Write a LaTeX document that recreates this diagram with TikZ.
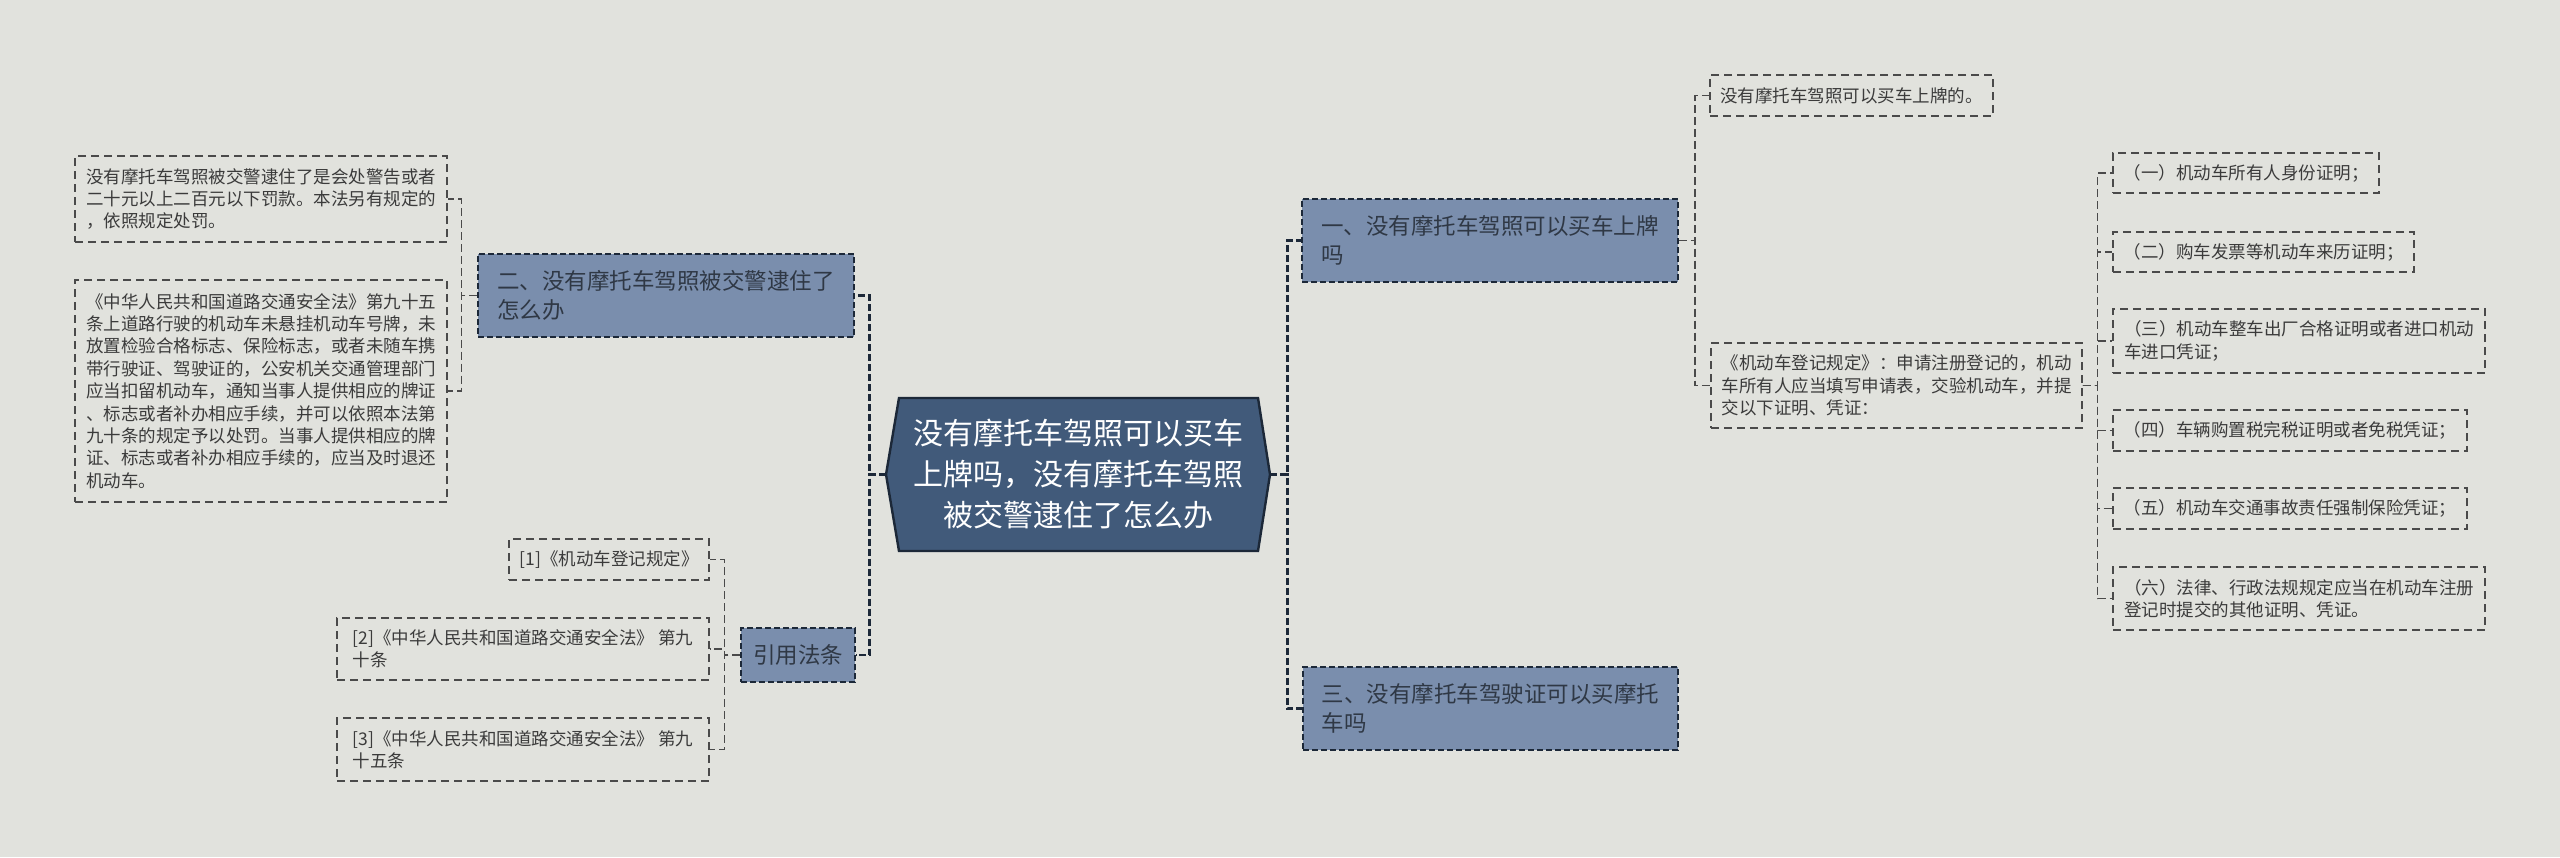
\documentclass[tikz,border=0pt]{standalone}
\usepackage{fontspec}
\setmainfont{Noto Sans CJK SC}
\definecolor{bgc}{HTML}{E1E2DD}
\definecolor{rootc}{HTML}{415A7A}
\definecolor{rootline}{HTML}{1C2838}
\definecolor{topicc}{HTML}{7A8EAD}
\definecolor{topictext}{HTML}{2F3845}
\definecolor{leafline}{HTML}{4A4A4A}
\definecolor{leaftext}{HTML}{3B3B3B}
\begin{document}
\begin{tikzpicture}[x=0.5pt, y=-0.5pt, rootbox/.style={draw=rootline, line width=1.2pt, fill=rootc}, root/.style={minimum width=192pt, minimum height=76.5pt, align=center, text=white, font=\fontsize{15pt}{20.5pt}\selectfont}, topic/.style={draw=rootline, fill=topicc, dash pattern=on 3pt off 1.5pt, line width=0.8pt, align=left, text=topictext, inner sep=5pt, font=\fontsize{11.25pt}{14.5pt}\selectfont}, leaf/.style={draw=leafline, dash pattern=on 4pt off 2.5pt, line width=0.7pt, align=left, text=leaftext, inner sep=4pt, font=\fontsize{8.75pt}{11.2pt}\selectfont}, link/.style={draw=rootline, line width=1.4pt, dash pattern=on 3.5pt off 1.5pt}, leaflink/.style={draw=leafline, line width=0.7pt, dash pattern=on 4pt off 2pt}]
		\fill[bgc] (0,0) rectangle (2560,857);
		\draw[rootbox] (886,474.5) -- (899,398) -- (1258,398) -- (1270,474.5) -- (1258,551) -- (899,551) -- cycle;
		\node[root] (root) at (1078,474.5) {没有摩托车驾照可以买车\\上牌吗，没有摩托车驾照\\被交警逮住了怎么办};

		\node[topic, minimum width=188pt, minimum height=41.5pt] (n1) at (1490,240.5) {一、没有摩托车驾照可以买车上牌\\吗};
		\node[topic, minimum width=188pt, minimum height=41.5pt] (n2) at (666,295.5) {二、没有摩托车驾照被交警逮住了\\怎么办};
		\node[topic, minimum width=187.5pt, minimum height=41.5pt] (n3) at (1490.5,708.5) {三、没有摩托车驾驶证可以买摩托\\车吗};
		\node[topic, minimum width=57pt, minimum height=27pt] (n4) at (798,655) {引用法条};

		\node[leaf, minimum width=186pt, minimum height=43pt] (l1) at (261,199) {没有摩托车驾照被交警逮住了是会处警告或者\\二十元以上二百元以下罚款。本法另有规定的\\，依照规定处罚。};
		\node[leaf, minimum width=186pt, minimum height=111pt] (l2) at (261,391) {《中华人民共和国道路交通安全法》第九十五\\条上道路行驶的机动车未悬挂机动车号牌，未\\放置检验合格标志、保险标志，或者未随车携\\带行驶证、驾驶证的，公安机关交通管理部门\\应当扣留机动车，通知当事人提供相应的牌证\\、标志或者补办相应手续，并可以依照本法第\\九十条的规定予以处罚。当事人提供相应的牌\\证、标志或者补办相应手续的，应当及时退还\\机动车。};

		\node[leaf, minimum width=100pt, minimum height=20.5pt] (r1) at (609,559.5) {[1]《机动车登记规定》};
		\node[leaf, minimum width=186pt, minimum height=31pt] (r2) at (523,649) {[2]《中华人民共和国道路交通安全法》 第九\\十条};
		\node[leaf, minimum width=186pt, minimum height=31.5pt] (r3) at (523,749.5) {[3]《中华人民共和国道路交通安全法》 第九\\十五条};

		\node[leaf, minimum width=141.5pt, minimum height=20.5pt] (a1) at (1851.5,95.5) {没有摩托车驾照可以买车上牌的。};
		\node[leaf, minimum width=185.5pt, minimum height=42.5pt] (a2) at (1896.5,385.5) {《机动车登记规定》：申请注册登记的，机动\\车所有人应当填写申请表，交验机动车，并提\\交以下证明、凭证：};

		\node[leaf, minimum width=133pt, minimum height=20pt] (s1) at (2246,173) {（一）机动车所有人身份证明；};
		\node[leaf, minimum width=150.5pt, minimum height=20pt] (s2) at (2263.5,252) {（二）购车发票等机动车来历证明；};
		\node[leaf, minimum width=186pt, minimum height=32pt] (s3) at (2299,341) {（三）机动车整车出厂合格证明或者进口机动\\车进口凭证；};
		\node[leaf, minimum width=177pt, minimum height=20.5pt] (s4) at (2290,430.5) {（四）车辆购置税完税证明或者免税凭证；};
		\node[leaf, minimum width=177pt, minimum height=20.5pt] (s5) at (2290,508.5) {（五）机动车交通事故责任强制保险凭证；};
		\node[leaf, minimum width=186pt, minimum height=31.5pt] (s6) at (2299,598.5) {（六）法律、行政法规规定应当在机动车注册\\登记时提交的其他证明、凭证。};

		\draw[link] (root.west) -- ++(-16,0) |- (n2.east);
		\draw[link] (root.west) -- ++(-16,0) |- (n4.east);
		\draw[link] (root.east) -- ++(17,0) |- (n1.west);
		\draw[link] (root.east) -- ++(17,0) |- (n3.west);

		\draw[leaflink] (n2.west) -- ++(-16,0) |- (l1.east);
		\draw[leaflink] (n2.west) -- ++(-16,0) |- (l2.east);
		\draw[leaflink] (n4.west) -- ++(-16,0) |- (r1.east);
		\draw[leaflink] (n4.west) -- ++(-16,0) |- (r2.east);
		\draw[leaflink] (n4.west) -- ++(-16,0) |- (r3.east);
		\draw[leaflink] (n1.east) -- ++(16,0) |- (a1.west);
		\draw[leaflink] (n1.east) -- ++(16,0) |- (a2.west);
		\draw[leaflink] (a2.east) -- ++(15,0) |- (s1.west);
		\draw[leaflink] (a2.east) -- ++(15,0) |- (s2.west);
		\draw[leaflink] (a2.east) -- ++(15,0) |- (s3.west);
		\draw[leaflink] (a2.east) -- ++(15,0) |- (s4.west);
		\draw[leaflink] (a2.east) -- ++(15,0) |- (s5.west);
		\draw[leaflink] (a2.east) -- ++(15,0) |- (s6.west);
\end{tikzpicture}
\end{document}
